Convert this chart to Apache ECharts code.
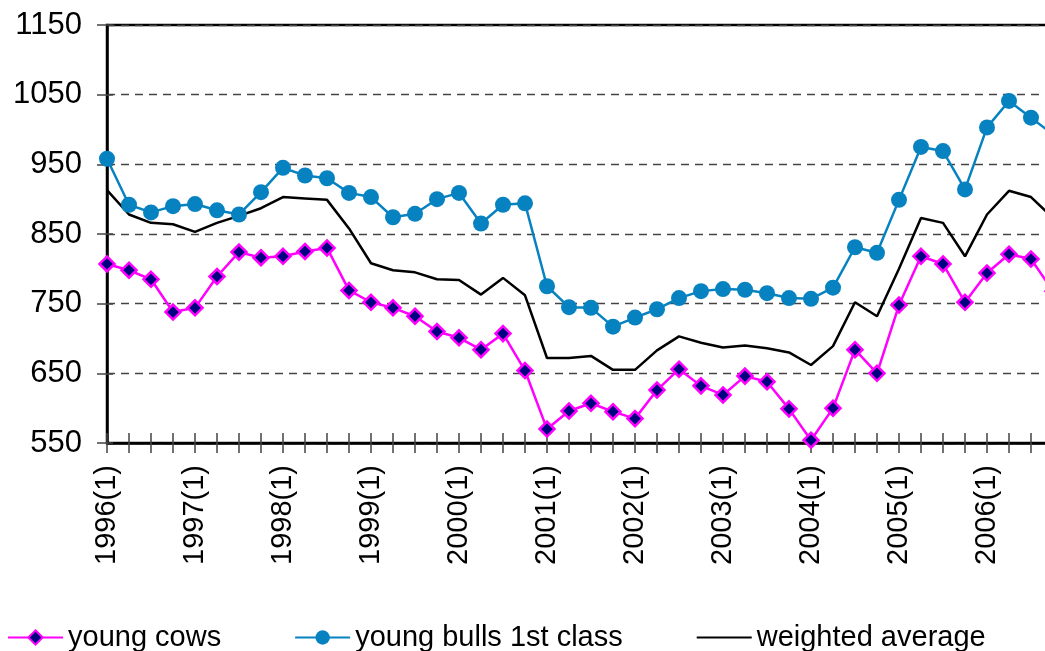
<!DOCTYPE html>
<html>
<head>
    <meta charset="utf-8">
    <title>index</title>
    <style>
        html, body { margin: 0; padding: 0; overflow: hidden; background: #fff; }
        #container { width: 1060px; height: 651px; }
    </style>
</head>
<body>
    <div id="container"></div>
</body>
<script src="https://cdn.jsdelivr.net/npm/echarts@6/dist/echarts.min.js"></script>
<script type="text/javascript">
    // quarters 1996(1) .. 2006(4)
    var years = [1996, 1997, 1998, 1999, 2000, 2001, 2002, 2003, 2004, 2005, 2006];
    var quarters = [1, 2, 3, 4];
    var categories = [];
    years.forEach(function (y) {
        quarters.forEach(function (q) {
            categories.push(y + '(' + q + ')');
        });
    });

    var youngCows = [807, 798, 785, 738, 744, 789, 824, 816, 818, 825,
        830, 769, 752, 744, 732, 710, 701, 684, 707, 654,
        570, 596, 607, 595, 585, 626, 656, 632, 619, 646,
        638, 599, 554, 600, 684, 650, 748, 818, 807, 752,
        794, 821, 814, 768];
    var youngBulls = [958, 892, 881, 890, 893, 884, 878, 910, 945, 934,
        930, 909, 903, 874, 879, 900, 909, 865, 892, 894,
        775, 745, 744, 717, 730, 742, 758, 768, 771, 770,
        765, 758, 757, 773, 831, 823, 899, 975, 969, 914,
        1003, 1041, 1017, 993];
    var weightedAvg = [913, 878, 866, 864, 853, 866, 876, 887, 903, 901,
        899, 858, 808, 798, 795, 785, 784, 763, 787, 762,
        672, 672, 675, 655, 655, 683, 703, 694, 687, 690,
        686, 680, 662, 689, 752, 732, 800, 873, 866, 818,
        878, 912, 903, 873];

    var font = 'Liberation Sans, Arial, sans-serif';
    var myChart = echarts.init(document.getElementById('container'));

    var option = {
        backgroundColor: '#fff',
        animation: false,
        textStyle: { fontFamily: font, color: '#000' },
        grid: {
            left: 107, right: 7, top: 25, bottom: 208,
            show: true,
            borderColor: '#000',
            borderWidth: 2.5
        },
        legend: {
            left: 2,
            top: 618,
            itemWidth: 55,
            itemHeight: 18,
            itemGap: 73,
            textStyle: { fontSize: 29, color: '#000', fontFamily: font },
            data: ['young cows', 'young bulls 1st class', {
                name: 'weighted average',
                // hide the legend dot, keep only the line
                itemStyle: { color: 'rgba(0,0,0,0)', borderColor: 'rgba(0,0,0,0)', borderWidth: 0 }
            }]
        },
        xAxis: [{
            type: 'category',
            data: categories,
            boundaryGap: false,
            axisLine: { lineStyle: { color: '#000', width: 2.5 } },
            axisTick: { interval: 0, length: 10, lineStyle: { color: '#444', width: 1.5 } },
            axisLabel: {
                interval: 3,
                rotate: 90,
                margin: 22,
                fontSize: 29,
                color: '#000',
                fontFamily: font
            },
            splitLine: { show: false }
        }, {
            // second axis only to draw the inner half of the ticks
            type: 'category',
            data: categories,
            position: 'bottom',
            boundaryGap: false,
            axisLine: { show: false },
            axisTick: { inside: true, interval: 0, length: 10, lineStyle: { color: '#444', width: 1.5 } },
            axisLabel: { show: false },
            splitLine: { show: false }
        }],
        yAxis: [{
            type: 'value',
            min: 550,
            max: 1150,
            interval: 100,
            axisLine: { show: true, lineStyle: { color: '#000', width: 2.5 } },
            axisTick: { show: true, length: 10, lineStyle: { color: '#444', width: 1.5 } },
            axisLabel: {
                margin: 25, fontSize: 31, color: '#000', fontFamily: font,
                formatter: function (v) { return String(v); }
            },
            splitLine: {
                show: true,
                lineStyle: { color: '#444', width: 1.3, type: [8, 6] }
            }
        }, {
            type: 'value',
            min: 550,
            max: 1150,
            interval: 100,
            position: 'left',
            axisLine: { show: false },
            axisTick: { show: true, inside: true, length: 6, lineStyle: { color: '#444', width: 1.5 } },
            axisLabel: { show: false },
            splitLine: { show: false }
        }],
        series: [{
            name: 'young cows',
            type: 'line',
            data: youngCows,
            symbol: 'diamond',
            symbolSize: 15,
            showAllSymbol: true,
            lineStyle: { color: '#FF00FF', width: 2.5 },
            itemStyle: { color: '#000080', borderColor: '#FF00FF', borderWidth: 2.5 }
        }, {
            name: 'young bulls 1st class',
            type: 'line',
            data: youngBulls,
            symbol: 'circle',
            symbolSize: 16,
            showAllSymbol: true,
            lineStyle: { color: '#0782C1', width: 2.5 },
            itemStyle: { color: '#0782C1' }
        }, {
            name: 'weighted average',
            type: 'line',
            data: weightedAvg,
            symbol: 'none',
            lineStyle: { color: '#000', width: 2.5 },
            itemStyle: { color: '#000' }
        }]
    };
    if (option && typeof option === "object") {
        myChart.setOption(option, true);
    }
</script>
</html>
